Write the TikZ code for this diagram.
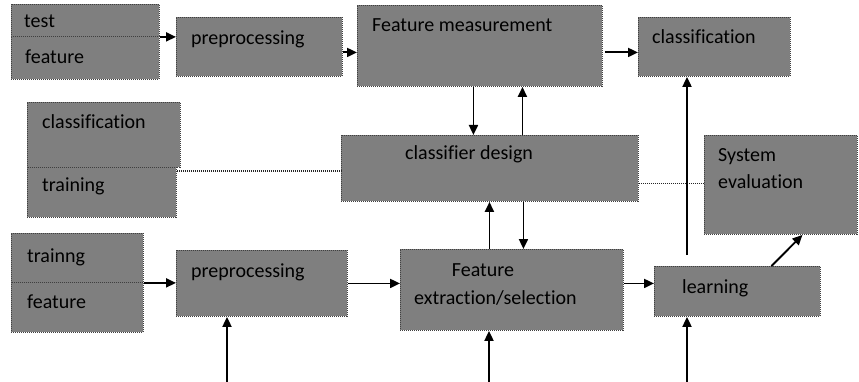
\documentclass[tikz,border=0pt]{standalone}
\usepackage{fontspec}
\setmainfont{Carlito}[Ligatures=NoCommon]
\usetikzlibrary{arrows.meta}
\begin{document}
\begin{tikzpicture}[x=1pt,y=-1pt,
  box/.style={rectangle, inner sep=0pt, fill=boxgray, draw=black!75,
    line width=0.9pt, dash pattern=on 1pt off 1pt, anchor=north west},
  lbl/.style={anchor=base west, inner sep=0pt, font=\fontsize{20}{24}\selectfont},
  arr/.style={line width=1.9pt, -{Triangle[length=10pt,width=9pt]}},
  dots/.style={line width=1.1pt, black!85, dash pattern=on 1pt off 1pt}]
\definecolor{boxgray}{RGB}{127,127,127}
\useasboundingbox (0,0) rectangle (859,382);

% test path
\node[box, minimum width=148pt, minimum height=32pt] (tst) at (11,4) {};
\node[box, minimum width=148pt, minimum height=43pt] (tfeat) at (11,36) {};
\node[box, minimum width=166pt, minimum height=59pt] (pre1) at (176,17) {};
\node[box, minimum width=245pt, minimum height=81pt] (fm) at (357,5) {};
\node[box, minimum width=152pt, minimum height=59pt] (cls) at (638,17) {};

% middle row
\node[box, minimum width=153pt, minimum height=65pt] (ccl) at (27,102) {};
\node[box, minimum width=149pt, minimum height=50pt] (trn) at (27,167) {};
\node[box, minimum width=297pt, minimum height=66pt] (cd) at (341,135) {};
\node[box, minimum width=153pt, minimum height=99pt] (se) at (704,135) {};

% training path
\node[box, minimum width=132pt, minimum height=49pt] (trg) at (11,233) {};
\node[box, minimum width=132pt, minimum height=50pt] (bfeat) at (11,282) {};
\node[box, minimum width=171pt, minimum height=66pt] (pre2) at (176,250) {};
\node[box, minimum width=223pt, minimum height=81pt] (fe) at (400,249) {};
\node[box, minimum width=166pt, minimum height=50pt] (lrn) at (654,266) {};

% labels
\node[lbl] (tstT) at (24,28) {test};
\node[lbl] (tfeatT) at (25,64) {feature};
\node[lbl] (pre1T) at (191,45) {preprocessing};
\node[lbl] (fmT) at (372,32) {Feature measurement};
\node[lbl] (clsT) at (652,44) {classif\kern0pt ication};
\node[lbl] (cclT) at (42,129) {classif\kern0pt ication};
\node[lbl] (trnT) at (42,192) {training};
\node[lbl] (cdT) at (405,160) {classif\kern0pt ier design};
\node[lbl] (seT1) at (718,162) {System};
\node[lbl] (seT2) at (718,189) {evaluation};
\node[lbl] (trgT) at (27,262) {trainng};
\node[lbl] (bfeatT) at (27,308) {feature};
\node[lbl] (pre2T) at (191,277) {preprocessing};
\node[lbl, anchor=base] (feT1) at (483,276) {Feature};
\node[lbl] (feT2) at (414,304) {extraction/selection};
\node[lbl] (lrnT) at (682,293) {learning};

% free ends of the connectors
\coordinate (in1) at (227,382);
\coordinate (in2) at (489,382);
\coordinate (in3) at (687,382);
\coordinate (lu) at (687,255);

% connectors, test path
\draw[arr] (tst.south east) -- (tst.south east -| pre1.west);
\draw[arr] ([yshift=-5.5pt]pre1.east) coordinate (p1) -- (p1 -| fm.west);
\draw[arr] ([yshift=-6.5pt,xshift=2pt]fm.east) coordinate (p2) -- (p2 -| cls.west);
\draw[arr] ([xshift=-6.5pt]fm.south) coordinate (p3) -- (p3 |- cd.north);
\draw[arr] ([xshift=42.5pt]fm.south |- cd.north) -- ([xshift=42.5pt]fm.south);

% connectors between classifier design and feature extraction
\draw[arr] ([xshift=-22.5pt]fe.north) coordinate (p5) -- (p5 |- cd.south);
\draw[arr] ([xshift=11.5pt]fe.north |- cd.south) coordinate (p6) -- (p6 |- fe.north);

% dotted links
\draw[dots] ([yshift=-4pt]trn.north east) coordinate (p7) -- (p7 -| cd.west);
\draw[dots] ([yshift=-15pt]cd.east) coordinate (p8) -- (p8 -| se.west);

% connectors, training path
\draw[arr] (trg.south east) -- (trg.south east -| pre2.west);
\draw[arr] (pre2.east) -- (pre2.east -| fe.west);
\draw[arr] ([yshift=6.5pt]fe.east) coordinate (p9) -- (p9 -| lrn.west);
\draw[arr] (lu) -- (lu |- cls.south);
\draw[arr] ([xshift=34pt]lrn.north) -- ([xshift=21.5pt]se.south);

% inputs from below
\draw[arr] (in1) -- (in1 |- pre2.south);
\draw[arr] (in2) -- (in2 |- fe.south);
\draw[arr] (in3) -- (in3 |- lrn.south);
\end{tikzpicture}
\end{document}
